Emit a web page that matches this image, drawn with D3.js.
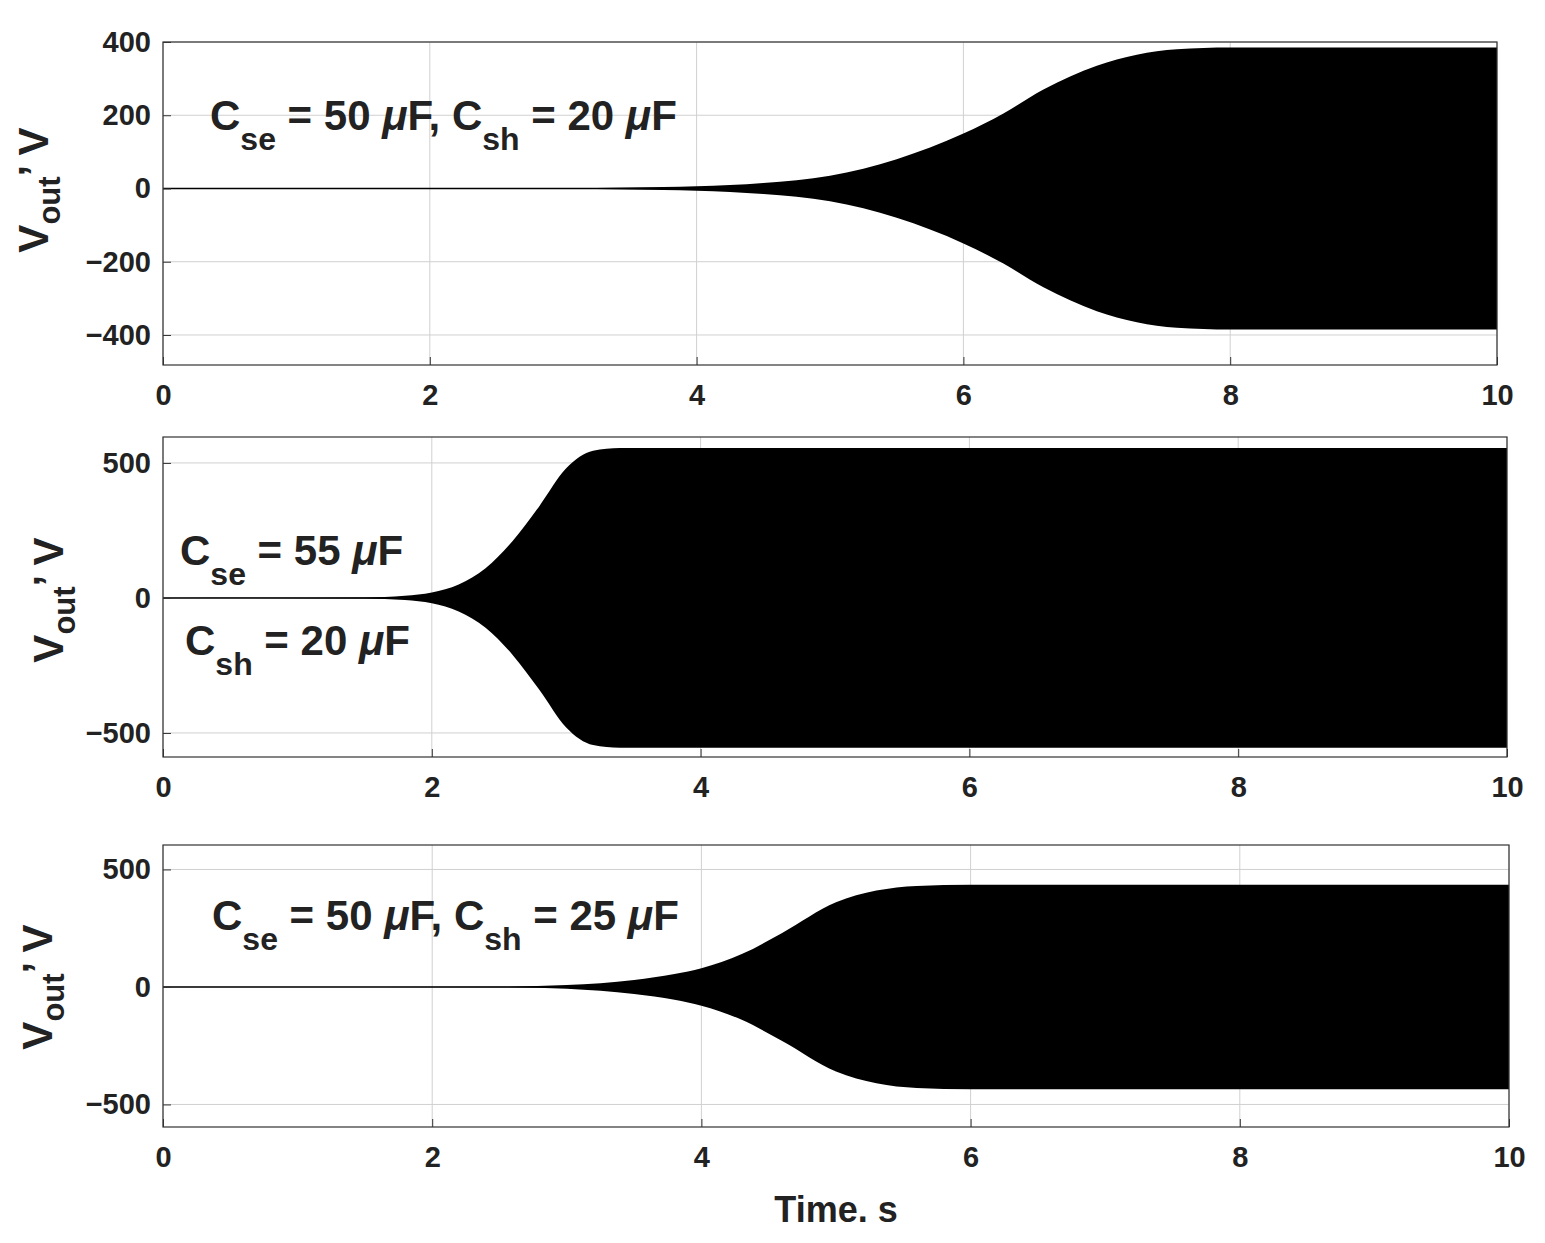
<!DOCTYPE html>
<html><head><meta charset="utf-8">
<script src="https://cdn.jsdelivr.net/npm/d3@7"></script>
<style>
body{margin:0;background:#fff;}
text{font-family:"Liberation Sans",Arial,sans-serif;font-weight:bold;fill:#222;}
</style></head>
<body><svg id="chart" width="1545" height="1243"></svg>
<script>
// envelope amplitude (V)
var t1 = [0, 3, 3.5, 4, 4.5, 5, 5.5, 6, 6.3, 6.6, 7, 7.3, 7.6, 8, 10];
var a1 = [0, 1, 3, 6, 15, 35, 80, 150, 205, 270, 335, 365, 380, 385, 385];
var t2 = [0, 1.5, 1.8, 2, 2.2, 2.4, 2.6, 2.8, 3, 3.2, 3.4, 10];
var a2 = [0, 2, 8, 20, 50, 110, 210, 340, 480, 545, 555, 555];
var t3 = [0, 2.5, 3, 3.5, 3.8, 4, 4.3, 4.6, 5, 5.3, 5.6, 6, 10];
var a3 = [0, 1, 8, 30, 55, 80, 140, 230, 360, 410, 430, 435, 435];
var yTicks1 = [-400, -200, 0, 200, 400];
var yTicks23 = [-500, 0, 500];
var xTicks = [0, 2, 4, 6, 8, 10];

var panels = [
  {t: t1, a: a1, x0: 163, x1: 1497, y0: 42, y1: 365, dom: [-482, 400], ticks: yTicks1, labX: 48, labY: 190,
   notes: [{x: 210, y: 130, se: "50", sh: "20", both: true}]},
  {t: t2, a: a2, x0: 163, x1: 1507, y0: 437, y1: 757, dom: [-589, 596], ticks: yTicks23, labX: 63, labY: 600,
   notes: [{x: 180, y: 565, se: "55"}, {x: 185, y: 655, sh: "20"}]},
  {t: t3, a: a3, x0: 163, x1: 1509, y0: 845, y1: 1127, dom: [-596, 604], ticks: yTicks23, labX: 52, labY: 987,
   notes: [{x: 212, y: 930, se: "50", sh: "25", both: true}]}
];

var svg = d3.select('#chart');

panels.forEach(function(p) {
  var x = d3.scaleLinear().domain([0, 10]).range([p.x0, p.x1]);
  var y = d3.scaleLinear().domain(p.dom).range([p.y1, p.y0]);
  var g = svg.append('g');

  // grid
  g.selectAll('.gx').data(xTicks).enter().append('line')
    .attr('x1', d => x(d)).attr('x2', d => x(d)).attr('y1', p.y0).attr('y2', p.y1)
    .attr('stroke', '#d0d0d0').attr('stroke-width', 1);
  g.selectAll('.gy').data(p.ticks).enter().append('line')
    .attr('x1', p.x0).attr('x2', p.x1).attr('y1', d => y(d)).attr('y2', d => y(d))
    .attr('stroke', '#d0d0d0').attr('stroke-width', 1);

  // envelope
  var pts = p.t.map((d, i) => [d, p.a[i]]);
  g.append('path').datum(pts)
    .attr('d', d3.area().curve(d3.curveMonotoneX)
      .x(d => x(d[0])).y0(d => y(-d[1])).y1(d => y(d[1])))
    .attr('fill', '#000');
  g.append('line').attr('x1', p.x0).attr('x2', p.x1).attr('y1', y(0)).attr('y2', y(0))
    .attr('stroke', '#000').attr('stroke-width', 1.5);

  // axes
  var ax = g.append('g').attr('transform', `translate(0,${p.y1})`)
    .call(d3.axisBottom(x).tickValues(xTicks).tickSize(-8).tickPadding(14));
  var ay = g.append('g').attr('transform', `translate(${p.x0},0)`)
    .call(d3.axisLeft(y).tickValues(p.ticks).tickSize(-8).tickPadding(12));
  [ax, ay].forEach(function(a) {
    a.select('.domain').remove();
    a.selectAll('line').attr('stroke', '#333');
    a.selectAll('text').style('font-size', '29px').attr('fill', '#222');
  });
  ax.selectAll('text').attr('dy', '0.9em');
  g.append('rect').attr('x', p.x0).attr('y', p.y0).attr('width', p.x1 - p.x0).attr('height', p.y1 - p.y0)
    .attr('fill', 'none').attr('stroke', '#333').attr('stroke-width', 1.2);

  // y label
  var yl = g.append('text').attr('transform', `translate(${p.labX},${p.labY}) rotate(-90)`)
    .attr('text-anchor', 'middle').style('font-size', '42px');
  yl.append('tspan').text('V');
  yl.append('tspan').attr('dy', 12).style('font-size', '31px').text('out');
  yl.append('tspan').attr('dy', -12).text('’ V');

  // annotations
  p.notes.forEach(function(n) {
    var tx = g.append('text').attr('x', n.x).attr('y', n.y).style('font-size', '42px');
    if (n.se) {
      tx.append('tspan').text('C');
      tx.append('tspan').attr('dy', 20).style('font-size', '32px').text('se');
      tx.append('tspan').attr('dy', -20).text(' = ' + n.se + ' ');
      tx.append('tspan').style('font-style', 'italic').text('μ');
      tx.append('tspan').text('F' + (n.both ? ', ' : ''));
    }
    if (n.sh) {
      tx.append('tspan').text('C');
      tx.append('tspan').attr('dy', 20).style('font-size', '32px').text('sh');
      tx.append('tspan').attr('dy', -20).text(' = ' + n.sh + ' ');
      tx.append('tspan').style('font-style', 'italic').text('μ');
      tx.append('tspan').text('F');
    }
  });
});

svg.append('text').attr('x', 836).attr('y', 1222).attr('text-anchor', 'middle')
  .style('font-size', '36px').text('Time. s');
</script></body></html>
